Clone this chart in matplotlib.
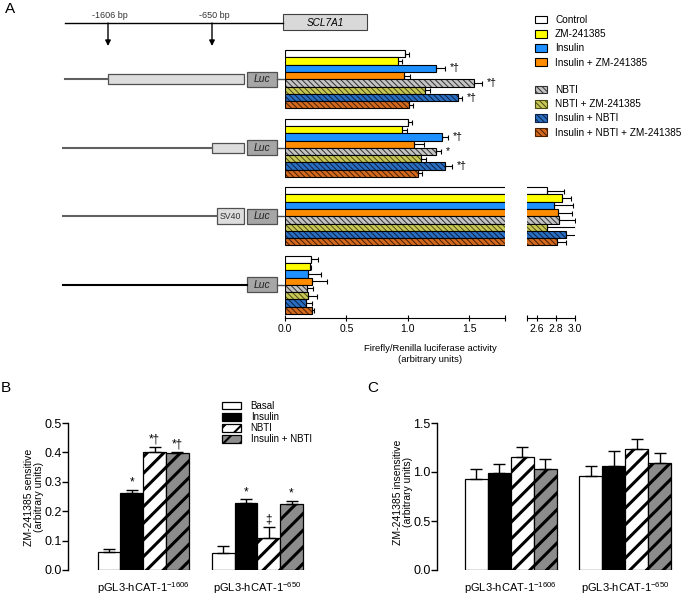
import matplotlib
matplotlib.use('Agg')
import matplotlib.pyplot as plt
from matplotlib.patches import Patch, Rectangle
from matplotlib import transforms
import numpy as np

plt.rcParams['font.family'] = ['Liberation Sans', 'DejaVu Sans']
plt.rcParams['mathtext.fontset'] = 'custom'
plt.rcParams['mathtext.rm'] = 'Liberation Sans'

# ---- panel A data (luciferase activity per construct) ----
treatments = ['Control', 'ZM-241385', 'Insulin', 'Insulin + ZM-241385',
              'NBTI', 'NBTI + ZM-241385', 'Insulin + NBTI', 'Insulin + NBTI + ZM-241385']

luc_1606 = [0.98, 0.92, 1.23, 0.97, 1.54, 1.14, 1.41, 1.01]
luc_1606_err = [0.03, 0.03, 0.07, 0.05, 0.065, 0.04, 0.03, 0.03]
luc_650 = [1.00, 0.95, 1.28, 1.05, 1.23, 1.11, 1.30, 1.08]
luc_650_err = [0.035, 0.045, 0.045, 0.08, 0.04, 0.035, 0.055, 0.035]
luc_sv40 = [2.71, 2.86, 2.78, 2.82, 2.83, 2.71, 2.91, 2.81]
luc_sv40_err = [0.18, 0.10, 0.20, 0.15, 0.17, 0.30, 0.11, 0.10]
luc_basic = [0.21, 0.20, 0.185, 0.22, 0.18, 0.19, 0.17, 0.22]
luc_basic_err = [0.055, 0.015, 0.11, 0.12, 0.05, 0.07, 0.05, 0.02]

marks_1606 = ['', '', '*\u2020', '', '*\u2020', '', '*\u2020', '']
marks_650 = ['', '', '*\u2020', '', '*', '', '*\u2020', '']

# ---- panels B and C data ----
conditions = ['Basal', 'Insulin', 'NBTI', 'Insulin + NBTI']
constructs = ['pGL3-hCAT-1$^{\\mathregular{-1606}}$', 'pGL3-hCAT-1$^{\\mathregular{-650}}$']

sens_1606 = [0.062, 0.261, 0.401, 0.398]
sens_1606_err = [0.011, 0.011, 0.017, 0.005]
sens_650 = [0.059, 0.229, 0.110, 0.224]
sens_650_err = [0.023, 0.011, 0.037, 0.011]
sens_marks_1606 = ['', '*', '*\u2020', '*\u2020']
sens_marks_650 = ['', '*', '\u2021', '*']

insens_1606 = [0.933, 0.991, 1.154, 1.028]
insens_1606_err = [0.095, 0.095, 0.10, 0.10]
insens_650 = [0.964, 1.066, 1.239, 1.096]
insens_650_err = [0.095, 0.146, 0.095, 0.098]

# styles
fills = ['white', '#FFFF00', '#1E90FF', '#FF8C00', '#C4C4C4', '#C8C858', '#2A6EC0', '#D2691E']
hatch_cols = [None, None, None, None, '#303030', '#4A4A10', '#0A1F45', '#4A1F00']
bc_fills = ['white', 'black', 'white', '#8C8C8C']
bc_hatch = [None, None, '//', '//']

W, H = 686, 602
fig = plt.figure(figsize=(6.86, 6.02), dpi=100)


def rect(x0, y0, x1, y1):
    return [x0 / W, 1 - y1 / H, (x1 - x0) / W, (y1 - y0) / H]


def set_hlw(artists, lw):
    for p in artists:
        if hasattr(p, 'set_hatch_linewidth'):
            p.set_hatch_linewidth(lw)


# overlay in pixel coordinates for diagrams and labels
ax0 = fig.add_axes([0, 0, 1, 1])
ax0.set_xlim(0, W)
ax0.set_ylim(H, 0)
ax0.axis('off')

# ---------------- panel A ----------------
axL = fig.add_axes(rect(285, 48, 505, 318), facecolor='none')
axR = fig.add_axes(rect(527, 48, 575, 318), facecolor='none')

step = 9.4
luc_vals = [luc_1606, luc_650, luc_sv40, luc_basic]
luc_errs = [luc_1606_err, luc_650_err, luc_sv40_err, luc_basic_err]
luc_marks = [marks_1606, marks_650, None, None]

for g in range(4):
    ypos = g * step + np.arange(8)
    vals = np.array(luc_vals[g])
    errs = np.array(luc_errs[g])
    for ax in (axL, axR):
        for i in range(8):
            if hatch_cols[i] is None:
                ax.barh(ypos[i], vals[i], height=1, color=fills[i], edgecolor='black', lw=0.8)
            else:
                with plt.rc_context({'hatch.linewidth': 0.7}):
                    b = ax.barh(ypos[i], vals[i], height=1, color=fills[i],
                                edgecolor=hatch_cols[i], hatch='\\\\\\\\\\\\', lw=0)
                set_hlw(b, 0.7)
                ax.barh(ypos[i], vals[i], height=1, fill=False, edgecolor='black', lw=0.8)
        ax.errorbar(vals, ypos, xerr=[np.zeros(8), errs], fmt='none', ecolor='black',
                    elinewidth=0.8, capsize=1.8, capthick=0.8)
    if luc_marks[g]:
        for i, m in enumerate(luc_marks[g]):
            if m:
                axL.text(vals[i] + errs[i] + 0.04, ypos[i], m, ha='left', va='center', fontsize=7.5)

for ax, lim in ((axL, (0, 1.79)), (axR, (2.5, 3.0))):
    ax.set_xlim(*lim)
    ax.set_ylim(36.25, -0.8)
    for s in ['top', 'right', 'left']:
        ax.spines[s].set_visible(False)
    ax.spines['bottom'].set_linewidth(0.8)
    ax.set_yticks([])
    ax.tick_params(axis='x', which='both', direction='inout', length=5, width=0.8,
                   labelsize=7.5, pad=2)

axL.set_xticks([0, 0.5, 1.0, 1.5])
axL.set_xticklabels(['0.0', '0.5', '1.0', '1.5'])
axL.set_xticks([1.79], minor=True)
axR.set_xticks([2.6, 2.8, 3.0])
axR.set_xticklabels(['2.6', '2.8', '3.0'])
axR.set_xticks([2.5], minor=True)

ax0.text(430, 354, 'Firefly/Renilla luciferase activity\n(arbitrary units)',
         ha='center', va='center', fontsize=6.8, linespacing=1.4)

# promoter diagram
ax0.plot([65, 283], [23, 23], color='black', lw=1)
ax0.add_patch(Rectangle((283, 14), 84, 16, fc='#D9D9D9', ec='#404040', lw=0.8))
ax0.text(325, 22.5, 'SCL7A1', style='italic', ha='center', va='center', fontsize=7.2)
for x, lab in ((108, '-1606 bp'), (212, '-650 bp')):
    ax0.annotate('', xy=(x, 46), xytext=(x, 23),
                 arrowprops=dict(arrowstyle='-|>', color='black', lw=1, mutation_scale=8,
                                 shrinkA=0, shrinkB=0))
    ax0.text(x + 2, 15, lab, ha='center', va='center', fontsize=6.5, color='#333333')

trans = transforms.blended_transform_factory(ax0.transData, axL.transData)
construct_start = [108, 212, 217, 247]
construct_box = ['promoter', 'promoter', 'SV40', None]
line_cols = ['#606060', '#606060', '#606060', 'black']
for g in range(4):
    yc = g * step + 3.5
    x_start = 65 if g == 0 else 63
    ax0.plot([x_start, construct_start[g]], [yc, yc], color=line_cols[g], lw=1.5,
             transform=trans, clip_on=False)
    if construct_box[g] == 'promoter':
        ax0.add_patch(Rectangle((construct_start[g], yc - 0.7), 244 - construct_start[g], 1.4,
                                fc='#DDDDDD', ec='#505050', lw=0.9, transform=trans, clip_on=False))
    elif construct_box[g] == 'SV40':
        ax0.add_patch(Rectangle((construct_start[g], yc - 1.1), 244 - construct_start[g], 2.2,
                                fc='#DDDDDD', ec='#505050', lw=0.9, transform=trans, clip_on=False))
        ax0.text(230.5, yc, 'SV40', ha='center', va='center', fontsize=6.3, color='#333333',
                 transform=trans, clip_on=False)
    ax0.add_patch(Rectangle((247, yc - 1.05), 30, 2.1, fc='#A6A6A6', ec='#505050', lw=0.9,
                            transform=trans, clip_on=False))
    ax0.text(262, yc, 'Luc', style='italic', ha='center', va='center', fontsize=7.5,
             color='#222222', transform=trans, clip_on=False)
    ax0.plot([277, 285], [yc, yc], color='#505050', lw=1, transform=trans, clip_on=False)

# legends A
handles1 = [Patch(facecolor=fills[i], edgecolor='black', lw=0.8) for i in range(4)]
with plt.rc_context({'hatch.linewidth': 0.7}):
    handles2 = [Patch(facecolor=fills[i], edgecolor=hatch_cols[i], hatch='\\\\\\\\\\\\', lw=0.8)
                for i in range(4, 8)]
    leg_kw = dict(loc='upper left', bbox_transform=ax0.transData, frameon=False, fontsize=7.2,
                  handlelength=1.2, handleheight=0.8, handletextpad=0.8, labelspacing=0.42,
                  borderpad=0, borderaxespad=0)
    fig.legend(handles1, treatments[:4], bbox_to_anchor=(535, 15), **leg_kw)
    fig.legend(handles2, treatments[4:], bbox_to_anchor=(535, 85), **leg_kw)

# ---------------- panels B and C ----------------
def bar_panel(ax, vals_list, errs_list, marks_list, ylim, yticks, mark_off):
    for g in range(2):
        xpos = g * 5 + np.arange(4)
        vals = np.array(vals_list[g])
        errs = np.array(errs_list[g])
        for i in range(4):
            with plt.rc_context({'hatch.linewidth': 2.2}):
                b = ax.bar(xpos[i], vals[i], width=1, color=bc_fills[i], edgecolor='black',
                           lw=0.9, hatch=bc_hatch[i])
            set_hlw(b, 2.2)
        ax.errorbar(xpos, vals, yerr=[np.zeros(4), errs], fmt='none', ecolor='black',
                    elinewidth=1, capsize=4.3, capthick=1)
        if marks_list:
            for i, m in enumerate(marks_list[g]):
                if m:
                    ax.text(xpos[i], vals[i] + errs[i] + mark_off, m, ha='center', va='bottom',
                            fontsize=8.5)
    ax.set_ylim(*ylim)
    ax.set_yticks(yticks)
    ax.set_yticklabels(['%.1f' % t for t in yticks])
    for s in ['top', 'right', 'bottom']:
        ax.spines[s].set_visible(False)
    ax.spines['left'].set_linewidth(1)
    ax.tick_params(axis='y', direction='out', length=4, width=1, labelsize=9, pad=0.5)
    ax.set_xticks([1.5, 6.5])
    ax.set_xticklabels(constructs)
    ax.tick_params(axis='x', length=0, pad=7, labelsize=8)


axB = fig.add_axes(rect(68, 423, 320.5, 570), facecolor='none')
axB.set_xlim(-1.80, 9.27)
bar_panel(axB, [sens_1606, sens_650], [sens_1606_err, sens_650_err],
          [sens_marks_1606, sens_marks_650], (0, 0.5), [0, 0.1, 0.2, 0.3, 0.4, 0.5], 0.004)

axC = fig.add_axes(rect(437, 423, 686, 570), facecolor='none')
axC.set_xlim(-1.72, 9.15)
bar_panel(axC, [insens_1606, insens_650], [insens_1606_err, insens_650_err],
          None, (0, 1.5), [0, 0.5, 1.0, 1.5], 0)

ax0.text(34, 497, 'ZM-241385 sensitive\n(arbitrary units)', rotation=90, ha='center',
         va='center', fontsize=7.5, linespacing=0.95)
ax0.text(403, 492, 'ZM-241385 insensitive\n(arbitrary units)', rotation=90, ha='center',
         va='center', fontsize=7.5, linespacing=0.95)

bc_handles = []
with plt.rc_context({'hatch.linewidth': 1.5}):
    for i in range(4):
        bc_handles.append(Patch(facecolor=bc_fills[i], edgecolor='black', lw=0.9, hatch=bc_hatch[i]))
    fig.legend(bc_handles, conditions, loc='upper left', bbox_to_anchor=(222, 401),
               bbox_transform=ax0.transData, frameon=False, fontsize=7, handlelength=2.0,
               handleheight=0.8, handletextpad=0.95, labelspacing=0.12, borderpad=0,
               borderaxespad=0)

# panel letters
ax0.text(10, 9, 'A', ha='center', va='center', fontsize=11)
ax0.text(6, 388, 'B', ha='center', va='center', fontsize=11)
ax0.text(373, 388, 'C', ha='center', va='center', fontsize=11)

fig.savefig('out.png', dpi=100)
